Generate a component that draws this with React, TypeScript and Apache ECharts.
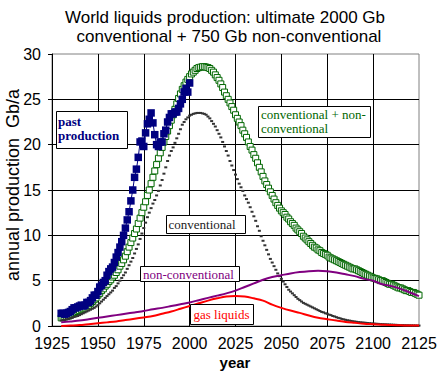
import React, { useEffect, useRef } from "react";
import * as echarts from "echarts";

// ---------- data ----------
const PAST_START = 1930;
const pastProduction = [
  1.4, 1.4, 1.3, 1.4, 1.5, 1.6, 1.8, 2.0, 2.0, 2.1,
  2.2, 2.3, 2.2, 2.3, 2.6, 2.6, 2.8, 3.1, 3.4, 3.4,
  3.8, 4.3, 4.5, 4.8, 5.0, 5.6, 6.0, 6.3, 6.5, 7.0,
  7.6, 8.1, 8.7, 9.3, 10.0, 10.8, 11.7, 12.6, 13.8, 15.0,
  16.4, 17.3, 18.6, 20.3, 20.4, 19.8, 21.3, 22.3, 22.8, 23.5,
  22.4, 21.1, 20.0, 19.8, 20.3, 20.3, 21.2, 21.6, 22.5, 23.0,
  23.4, 23.4, 23.6, 23.6, 24.0, 24.5, 25.0, 25.8, 26.2, 25.8,
  26.8,
];

const MODEL_START = 1930;
const convPlusNonConv = [
  0.9, 0.95, 1.0, 1.05, 1.1, 1.2, 1.3, 1.4, 1.5, 1.6,
  1.7, 1.8, 1.9, 2.0, 2.2, 2.3, 2.5, 2.7, 2.9, 3.1,
  3.4, 3.6, 3.9, 4.1, 4.4, 4.6, 4.9, 5.1, 5.4, 5.6,
  5.9, 6.2, 6.6, 6.9, 7.3, 7.7, 8.2, 8.7, 9.2, 9.7,
  10.2, 10.7, 11.3, 11.9, 12.5, 13.1, 13.7, 14.4, 15.0, 15.7,
  16.4, 17.1, 17.8, 18.5, 19.1, 19.7, 20.3, 20.9, 21.5, 22.1,
  22.7, 23.3, 23.9, 24.5, 25.1, 25.6, 26.1, 26.5, 26.9, 27.2,
  27.5, 27.8, 28.0, 28.2, 28.4, 28.5, 28.55, 28.6, 28.6, 28.55,
  28.5, 28.4, 28.2, 28.0, 27.7, 27.4, 27.1, 26.7, 26.3, 25.8,
  25.4, 25.0, 24.6, 24.2, 23.8, 23.3, 22.9, 22.5, 22.1, 21.6,
  21.2, 20.8, 20.3, 19.8, 19.4, 18.9, 18.5, 18.0, 17.5, 17.0,
  16.5, 16.0, 15.6, 15.2, 14.8, 14.4, 14.0, 13.6, 13.3, 13.0,
  12.7, 12.5, 12.3, 12.0, 11.8, 11.5, 11.3, 11.1, 10.8, 10.6,
  10.4, 10.2, 9.9, 9.7, 9.5, 9.3, 9.1, 8.9, 8.7, 8.6,
  8.4, 8.3, 8.1, 8.0, 7.9, 7.8, 7.6, 7.5, 7.4, 7.3,
  7.2, 7.1, 7.0, 6.9, 6.8, 6.7, 6.6, 6.5, 6.4, 6.3,
  6.3, 6.2, 6.1, 6.0, 5.9, 5.8, 5.7, 5.6, 5.5, 5.4,
  5.3, 5.25, 5.2, 5.1, 5.0, 5.0, 4.9, 4.8, 4.7, 4.6,
  4.6, 4.5, 4.4, 4.3, 4.2, 4.2, 4.1, 4.0, 3.9, 3.9,
  3.8, 3.7, 3.7, 3.6, 3.5, 3.4,
];

const conventional = [
  0.6, 0.65, 0.7, 0.75, 0.8, 0.85, 0.9, 1.0, 1.05, 1.1,
  1.2, 1.3, 1.4, 1.5, 1.6, 1.7, 1.8, 1.9, 2.0, 2.15,
  2.3, 2.5, 2.7, 2.9, 3.1, 3.3, 3.5, 3.7, 3.9, 4.2,
  4.4, 4.7, 5.0, 5.3, 5.6, 5.9, 6.3, 6.7, 7.1, 7.5,
  8.0, 8.5, 9.0, 9.6, 10.2, 10.8, 11.4, 12.0, 12.5, 13.0,
  13.5, 13.9, 14.4, 14.9, 15.5, 16.1, 16.8, 17.5, 18.2, 18.8,
  19.3, 19.7, 20.2, 20.7, 21.2, 21.7, 22.2, 22.5, 22.8, 23.0,
  23.2, 23.3, 23.4, 23.45, 23.5, 23.5, 23.5, 23.45, 23.4, 23.3,
  23.1, 22.9, 22.6, 22.3, 22.0, 21.6, 21.2, 20.8, 20.3, 19.8,
  19.3, 18.8, 18.2, 17.7, 17.2, 16.7, 16.2, 15.7, 15.3, 14.9,
  14.4, 14.0, 13.6, 13.1, 12.6, 12.1, 11.6, 11.0, 10.5, 9.9,
  9.4, 8.9, 8.4, 7.9, 7.4, 7.0, 6.6, 6.2, 5.8, 5.5,
  5.2, 4.9, 4.6, 4.3, 4.0, 3.8, 3.6, 3.4, 3.2, 3.0,
  2.85, 2.7, 2.55, 2.45, 2.35, 2.25, 2.15, 2.05, 1.95, 1.85,
  1.75, 1.65, 1.55, 1.5, 1.4, 1.35, 1.25, 1.2, 1.1, 1.05,
  0.97, 0.9, 0.85, 0.78, 0.73, 0.68, 0.63, 0.6, 0.56, 0.52,
  0.49, 0.46, 0.43, 0.41, 0.39, 0.37, 0.35, 0.33, 0.31, 0.29,
  0.27, 0.26, 0.24, 0.23, 0.21, 0.2, 0.19, 0.18, 0.17, 0.16,
  0.15, 0.14, 0.13, 0.12, 0.11, 0.1, 0.1, 0.09, 0.08, 0.08,
  0.07, 0.07, 0.06, 0.06, 0.05, 0.05,
];

const fiveYearTicks = [
  1930, 1935, 1940, 1945, 1950, 1955, 1960, 1965, 1970, 1975,
  1980, 1985, 1990, 1995, 2000, 2005, 2010, 2015, 2020, 2025,
  2030, 2035, 2040, 2045, 2050, 2055, 2060, 2065, 2070, 2075,
  2080, 2085, 2090, 2095, 2100, 2105, 2110, 2115, 2120, 2125,
];
const nonConventional = [
  0.4, 0.5, 0.6, 0.75, 0.9, 1.05, 1.2, 1.35, 1.5, 1.65,
  1.85, 2.0, 2.2, 2.4, 2.6, 2.85, 3.1, 3.35, 3.6, 3.9,
  4.3, 4.7, 5.1, 5.4, 5.6, 5.8, 5.95, 6.05, 6.1, 6.05,
  5.9, 5.7, 5.5, 5.2, 5.0, 4.6, 4.4, 4.1, 3.7, 3.3,
];
const gasLiquids = [
  0.0, 0.05, 0.1, 0.2, 0.3, 0.4, 0.5, 0.65, 0.8, 0.95,
  1.1, 1.35, 1.6, 1.9, 2.2, 2.5, 2.8, 3.05, 3.25, 3.3,
  3.25, 3.05, 2.8, 2.35, 2.0, 1.7, 1.45, 1.15, 0.9, 0.75,
  0.6, 0.45, 0.35, 0.25, 0.2, 0.15, 0.1, 0.08, 0.05, 0.05,
];

const xTicks = [1925, 1950, 1975, 2000, 2025, 2050, 2075, 2100, 2125];
const yTicks = [0, 5, 10, 15, 20, 25, 30];

const pairs = (start: number, vals: number[]) => vals.map((v, i) => [start + i, v]);
const pairsAt = (xs: number[], vals: number[]) => vals.map((v, i) => [xs[i], v]);

const SERIF = '"Liberation Serif", "Times New Roman", serif';
const SANS = '"Liberation Sans", Arial, sans-serif';

function box(x: number, y: number, w: number, h: number) {
  return {
    type: "rect",
    shape: { x, y, width: w, height: h },
    style: { fill: "#fff", stroke: "#000", lineWidth: 1 },
    z: 100,
  };
}
function txt(text: string, x: number, y: number, color: string, font: string, size: number, weight = "normal", align = "left") {
  return {
    type: "text",
    x,
    y,
    z: 101,
    style: {
      text,
      fill: color,
      font: `${weight} ${size}px ${font}`,
      textAlign: align,
      textVerticalAlign: "middle",
    },
  };
}

export default function App() {
  const ref = useRef<HTMLDivElement>(null);
  useEffect(() => {
    if (!ref.current) return;
    const chart = echarts.init(ref.current, undefined, { renderer: "svg" });
    chart.setOption({
      animation: false,
      backgroundColor: "#fff",
      grid: {
        left: 52,
        right: 26,
        top: 54,
        bottom: 46,
        show: true,
        borderColor: "#808080",
        borderWidth: 1,
        backgroundColor: "transparent",
      },
      xAxis: {
        type: "value",
        min: xTicks[0],
        max: xTicks[xTicks.length - 1],
        interval: 25,
        axisLine: { show: true, lineStyle: { color: "#000", width: 1 } },
        axisTick: { show: false },
        splitLine: { show: true, showMaxLine: false, lineStyle: { color: "#000", width: 1 } },
        axisLabel: {
          color: "#000",
          fontFamily: SANS,
          fontSize: 16,
          margin: 9,
          formatter: (v: number) => String(v),
        },
      },
      yAxis: {
        type: "value",
        min: yTicks[0],
        max: yTicks[yTicks.length - 1],
        interval: 5,
        axisLine: { show: true, lineStyle: { color: "#000", width: 1 } },
        axisTick: { show: true, length: 4, lineStyle: { color: "#000" } },
        splitLine: { show: true, showMaxLine: false, lineStyle: { color: "#000", width: 1 } },
        axisLabel: {
          color: "#000",
          fontFamily: SANS,
          fontSize: 16,
          margin: 11,
          formatter: (v: number) => String(v),
        },
      },
      series: [
        {
          name: "conventional + non-conventional",
          type: "scatter",
          data: pairs(MODEL_START, convPlusNonConv),
          symbol: "rect",
          symbolSize: 6,
          itemStyle: { color: "#fff", borderColor: "#006600", borderWidth: 1, opacity: 1 },
          z: 3,
        },
        {
          name: "conventional",
          type: "scatter",
          data: pairs(MODEL_START, conventional),
          symbol: "rect",
          symbolSize: [3, 2],
          itemStyle: { color: "#333", opacity: 1 },
          z: 4,
        },
        {
          name: "non-conventional",
          type: "line",
          data: pairsAt(fiveYearTicks, nonConventional),
          smooth: 0.3,
          showSymbol: false,
          lineStyle: { color: "#800080", width: 2 },
          z: 5,
        },
        {
          name: "gas liquids",
          type: "line",
          data: pairsAt(fiveYearTicks, gasLiquids),
          smooth: 0.3,
          showSymbol: false,
          lineStyle: { color: "#ff0000", width: 2 },
          z: 5,
        },
        {
          name: "past production",
          type: "line",
          data: pairs(PAST_START, pastProduction),
          symbol: "rect",
          symbolSize: 7.5,
          showAllSymbol: true,
          itemStyle: { color: "#000080" },
          lineStyle: { color: "#000080", width: 1 },
          z: 6,
        },
      ],
      graphic: [
        txt("World liquids production: ultimate 2000 Gb", 225, 17, "#000", SANS, 17, "normal", "center"),
        txt("conventional + 750 Gb non-conventional", 229, 36, "#000", SANS, 17, "normal", "center"),
        {
          type: "text",
          x: 12.5,
          y: 185,
          rotation: Math.PI / 2,
          style: {
            text: "annual production  Gb/a",
            fill: "#000",
            font: `normal 18px ${SANS}`,
            textAlign: "center",
            textVerticalAlign: "middle",
          },
        },
        txt("year", 235, 362, "#000", SANS, 15, "bold", "center"),
        box(56.5, 111.5, 71, 37),
        txt("past", 58, 121, "#000080", SERIF, 13, "bold"),
        txt("production", 58, 135, "#000080", SERIF, 13, "bold"),
        box(258.5, 106.5, 112, 31),
        txt("conventional + non-", 261, 114, "#006600", SERIF, 13),
        txt("conventional", 261, 128, "#006600", SERIF, 13),
        box(166.5, 215.5, 79, 18),
        txt("conventional", 168.5, 224.5, "#222", SERIF, 13),
        box(140.5, 266.5, 99, 15),
        txt("non-conventional", 143, 274.5, "#800080", SERIF, 13),
        box(190.5, 304.5, 63, 20),
        txt("gas liquids", 193.5, 314, "#ff0000", SERIF, 13),
      ],
    });
    return () => chart.dispose();
  }, []);
  return (
    <div
      ref={ref}
      style={{ position: "fixed", left: 0, top: 0, width: 445, height: 372 }}
    />
  );
}
